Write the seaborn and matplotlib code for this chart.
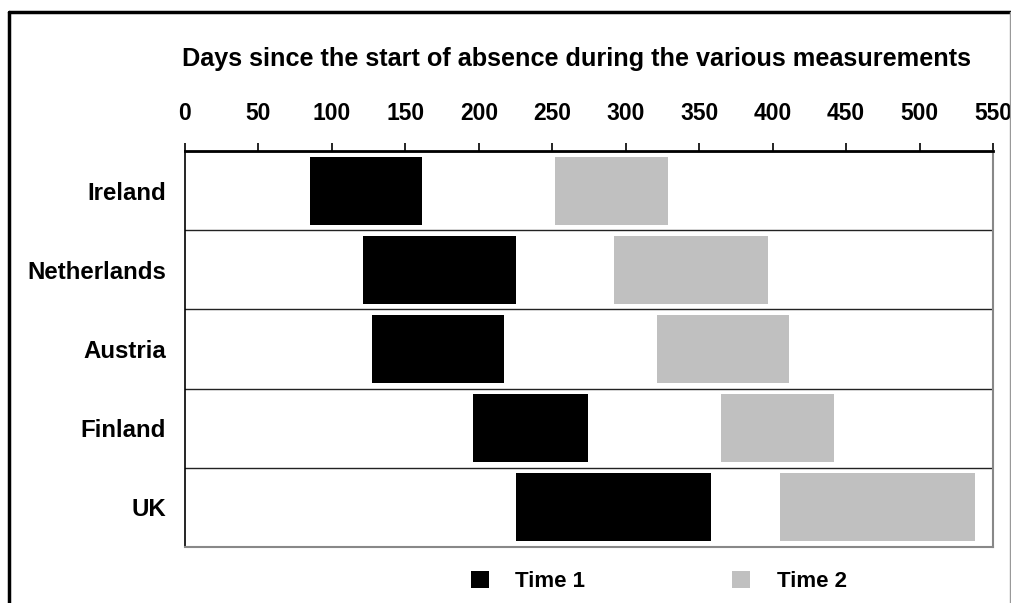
import numpy as np
import pandas as pd
import seaborn as sns
import matplotlib.pyplot as plt
from matplotlib.patches import Patch
from matplotlib.lines import Line2D

# values (days since the start of absence)
countries = ["Ireland", "Netherlands", "Austria", "Finland", "UK"]
t1_start = [85, 121, 127, 196, 225]
t1_end = [161, 225, 217, 274, 358]
t2_start = [252, 292, 321, 365, 405]
t2_end = [329, 397, 411, 442, 538]
x_ticks = list(range(0, 551, 50))

df = pd.DataFrame({
    "Country": countries * 2,
    "Time": ["Time 1"] * len(countries) + ["Time 2"] * len(countries),
    "Start": t1_start + t2_start,
    "End": t1_end + t2_end,
})
df["Length"] = df["End"] - df["Start"]

sns.set_style("white")
plt.rcParams["font.family"] = ["Liberation Sans", "DejaVu Sans"]
plt.rcParams["font.weight"] = "bold"
plt.rcParams["text.color"] = "black"
plt.rcParams["xtick.color"] = "black"
plt.rcParams["ytick.color"] = "black"
plt.rcParams["axes.labelcolor"] = "black"

colors = {"Time 1": "black", "Time 2": "#c0c0c0"}

fig = plt.figure(figsize=(10.12, 6.03), dpi=100)
ax = fig.add_axes([185 / 1012, 1 - 547 / 603, 808 / 1012, 396 / 603])

sns.barplot(data=df, x="Length", y="Country", hue="Time", palette=colors,
            dodge=False, width=0.86, orient="h", legend=False,
            saturation=1, order=countries, hue_order=["Time 1", "Time 2"], ax=ax)

# shift each bar so it starts at its own start day
for cont, level in zip(ax.containers, ["Time 1", "Time 2"]):
    sub = df[df["Time"] == level].set_index("Country").loc[countries]
    for bar, s in zip(cont, sub["Start"]):
        bar.set_x(s)
        bar.set_edgecolor("none")

ax.set_xlim(0, 550)
ax.set_ylim(len(countries) - 0.5, -0.5)
ax.xaxis.tick_top()
ax.xaxis.set_label_position("top")
ax.set_xticks(x_ticks)
ax.set_xticklabels([str(v) for v in x_ticks])
ax.tick_params(axis="x", direction="out", length=6, width=1.2, pad=13,
               labelsize=16.5, colors="black")

# row boundaries get ticks + lines, labels sit in the middle of each row
ax.set_yticks(np.arange(-0.5, len(countries), 1))
ax.set_yticklabels([""] * (len(countries) + 1))
ax.set_yticks(range(len(countries)), minor=True)
ax.set_yticklabels(countries, minor=True)
ax.tick_params(axis="y", which="major", direction="out", length=6, width=1.2)
ax.tick_params(axis="y", which="minor", length=0, pad=13.5, labelsize=17.3,
               colors="black")
ax.yaxis.grid(True, which="major", color="#222222", linewidth=1)
ax.xaxis.grid(False)
ax.set_axisbelow(True)
ax.set_ylabel("")

ax.set_xlabel("Days since the start of absence during the various measurements",
              fontsize=18.2, fontweight="bold", color="black")
ax.xaxis.set_label_coords(0.485, 1.215)

for side in ["top", "left"]:
    ax.spines[side].set_color("black")
ax.spines["top"].set_linewidth(2)
ax.spines["left"].set_linewidth(1.2)
for side in ["right", "bottom"]:
    ax.spines[side].set_color("#888888")
    ax.spines[side].set_linewidth(1.5)

handles = [Patch(facecolor=colors[k], edgecolor="none", label=k) for k in colors]
fig.legend(handles=handles, loc="center", bbox_to_anchor=(0.651, 0.036), ncol=2,
           frameon=False, handlelength=0.8, handleheight=0.8, handletextpad=1.2,
           columnspacing=6.6, fontsize=16)

# outer frame of the original figure
fig.add_artist(Line2D([9 / 1012, 9 / 1012], [0, 1 - 12 / 603], color="black", lw=2.5))
fig.add_artist(Line2D([9 / 1012, 1], [1 - 12 / 603, 1 - 12 / 603], color="black", lw=2.5))
fig.add_artist(Line2D([1010 / 1012, 1010 / 1012], [0, 1 - 12 / 603], color="#999999", lw=1))

fig.savefig("out.png", dpi=100)
